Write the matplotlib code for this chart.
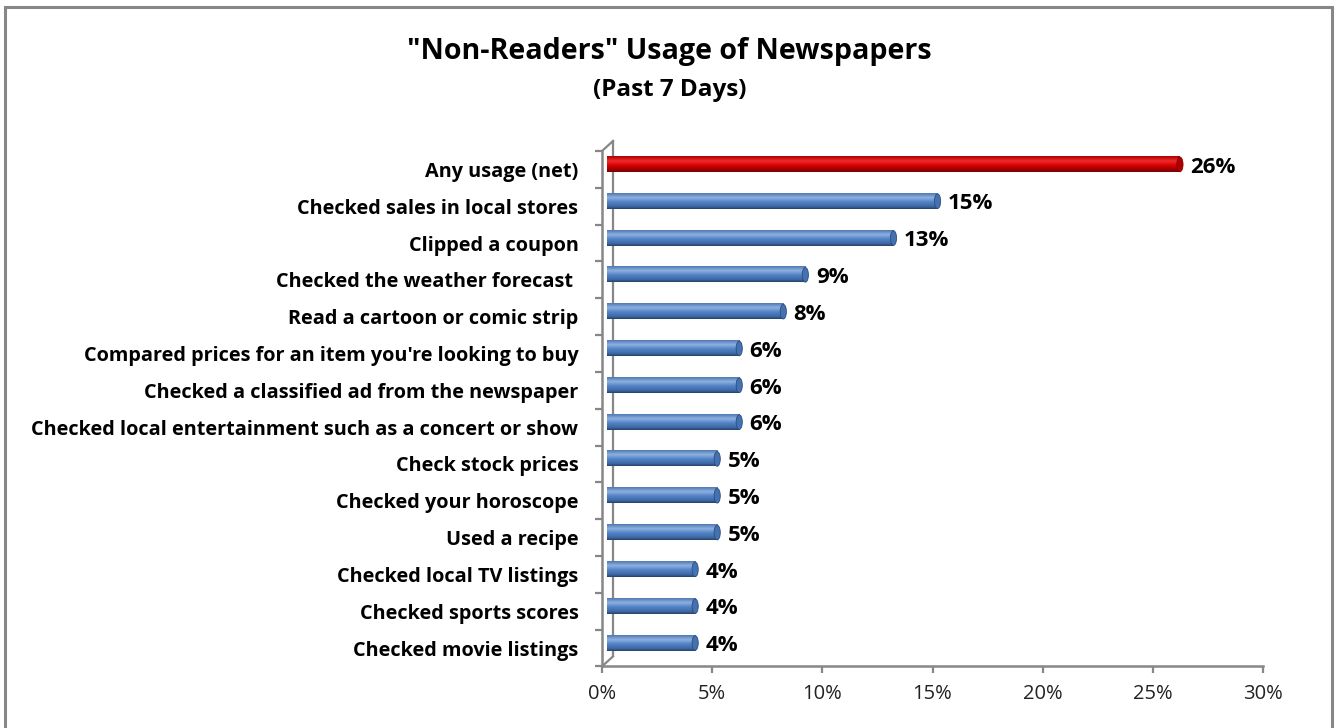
import numpy as np
import matplotlib
matplotlib.use("Agg")
import matplotlib.pyplot as plt
import matplotlib.transforms as mtransforms
from matplotlib.colors import LinearSegmentedColormap
from matplotlib.patches import Ellipse, Rectangle

categories = [
    "Any usage (net)",
    "Checked sales in local stores",
    "Clipped a coupon",
    "Checked the weather forecast ",
    "Read a cartoon or comic strip",
    "Compared prices for an item you're looking to buy",
    "Checked a classified ad from the newspaper",
    "Checked local entertainment such as a concert or show",
    "Check stock prices",
    "Checked your horoscope",
    "Used a recipe",
    "Checked local TV listings",
    "Checked sports scores",
    "Checked movie listings",
]
values = [26, 15, 13, 9, 8, 6, 6, 6, 5, 5, 5, 4, 4, 4]
highlight = [True] + [False] * 13
x_ticks = [0, 5, 10, 15, 20, 25, 30]

FONT = "Open Sans"
GRAY = "#878787"

# vertical shading so the bars look like cylinders (top -> bottom)
blue_cmap = LinearSegmentedColormap.from_list(
    "blue_cyl", [(0, "#4f79b3"), (0.28, "#8fb1e0"), (0.55, "#5384c8"),
                 (0.85, "#3d68a3"), (1, "#26416a")])
red_cmap = LinearSegmentedColormap.from_list(
    "red_cyl", [(0, "#a80000"), (0.3, "#f22a2a"), (0.6, "#d40000"),
                (1, "#7a0000")])
grad = np.linspace(0, 1, 64).reshape(-1, 1)

fig = plt.figure(figsize=(13.39, 7.28), dpi=100)
ax = fig.add_axes([0.4496, 0.0846, 0.4937, 0.708])

# bars sit a little behind the front axis line
bar_shift = mtransforms.ScaledTranslation(5 / 100, 5 / 100, fig.dpi_scale_trans)
wall_shift = mtransforms.ScaledTranslation(11 / 100, 10 / 100, fig.dpi_scale_trans)
bar_tr = ax.transData + bar_shift
wall_tr = ax.transData + wall_shift

h = 0.41
for i, (v, hi) in enumerate(zip(values, highlight)):
    cmap = red_cmap if hi else blue_cmap
    ax.imshow(grad, cmap=cmap, aspect="auto", interpolation="bilinear",
              extent=[0, v, i + h / 2, i - h / 2], transform=bar_tr, zorder=3)
    cap = Ellipse((v, i), 0.28, h * 0.97, facecolor=cmap(0.75),
                  edgecolor=cmap(0.95), linewidth=0.6, transform=bar_tr, zorder=4)
    ax.add_patch(cap)
    ax.annotate(f"{v}%", (v, i), xycoords=bar_tr, xytext=(7.5, -2),
                textcoords="offset points", va="center", ha="left",
                fontsize=16, fontweight="bold", family=FONT, color="black")

n = len(categories)
ax.set_xlim(0, 30)
ax.set_ylim(n - 0.5, -0.5)

# back wall edge and the depth lines
ax.plot([0, 0], [-0.5, n - 0.5], color=GRAY, lw=1.6, transform=wall_tr,
        clip_on=False, zorder=1)
for yy in (-0.5, n - 0.5):
    p0 = ax.transData.transform((0, yy))
    p1 = wall_tr.transform((0, yy))
    fig.add_artist(plt.Line2D([p0[0] / fig.bbox.width, p1[0] / fig.bbox.width],
                              [p0[1] / fig.bbox.height, p1[1] / fig.bbox.height],
                              color=GRAY, lw=1.6))

for side in ("top", "right"):
    ax.spines[side].set_visible(False)
for side in ("left", "bottom"):
    ax.spines[side].set_color(GRAY)
    ax.spines[side].set_linewidth(1.8)

ax.set_yticks(range(n))
ax.set_yticklabels(categories, fontsize=14.3, fontweight="bold", family=FONT)
ax.set_yticks(np.arange(-0.5, n), minor=True)
ax.tick_params(axis="y", which="major", length=0, pad=17)
ax.tick_params(axis="y", which="minor", length=5, width=1.6, color=GRAY)

ax.set_xticks(x_ticks)
ax.set_xticklabels([f"{t}%" for t in x_ticks], fontsize=14.5, family=FONT,
                   color="#222222")
ax.tick_params(axis="x", which="major", length=5, width=1.6, color=GRAY, pad=8)

fig.text(0.5, 0.929, "\"Non-Readers\" Usage of Newspapers", ha="center",
         va="center", fontsize=20.6, fontweight="bold", family=FONT)
fig.text(0.5, 0.877, "(Past 7 Days)", ha="center", va="center",
         fontsize=17.5, fontweight="bold", family=FONT)

# chart area border
fig.add_artist(Rectangle((5 / 1339, -0.02), 1327 / 1339, 1 - 7 / 728 + 0.02,
                         transform=fig.transFigure, fill=False,
                         edgecolor=GRAY, linewidth=2.2))

fig.savefig("out.png", dpi=100)
